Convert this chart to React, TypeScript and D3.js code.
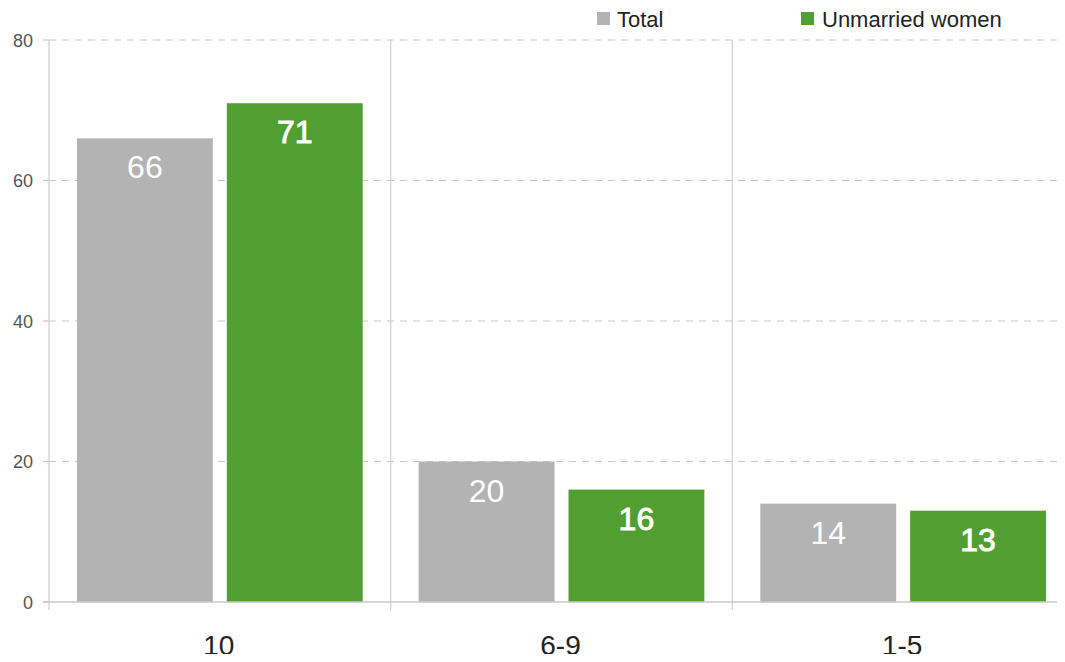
import React from "react";
import * as d3 from "d3";

const categories = ["10", "6-9", "1-5"];
const seriesNames = ["Total", "Unmarried women"];
const totalValues = [66, 20, 14];
const unmarriedValues = [71, 16, 13];
const yTicks = [0, 20, 40, 60, 80];
const seriesColors = ["#b3b3b3", "#519f30"];

const W = 1065;
const H = 662;
const FONT = "'Liberation Sans', Arial, Helvetica, sans-serif";

export default function App() {
  const left = 49;
  const top = 40;
  const bottom = 602;
  const right = 1074;

  const y = d3.scaleLinear().domain([0, 80]).range([bottom, top]);
  const x0 = d3.scaleBand<string>().domain(categories).range([left, right]).paddingInner(0).paddingOuter(0);
  const x1 = d3
    .scaleBand<string>()
    .domain(seriesNames)
    .range([0, x0.bandwidth()])
    .paddingInner(0.0933)
    .paddingOuter(0.1867);

  const data = categories.map((c, i) => ({
    cat: c,
    values: [totalValues[i], unmarriedValues[i]],
  }));

  const separators = [left, ...categories.slice(1).map((c) => x0(c) as number)];

  return (
    <div style={{ margin: -8 }}>
      <svg width={W} height={H} style={{ display: "block", background: "#fff" }} fontFamily={FONT}>
        {yTicks.map((t) => (
          <g key={"g" + t}>
            {t > 0 && (
              <line
                x1={left}
                x2={W}
                y1={y(t)}
                y2={y(t)}
                stroke="#c8c8c8"
                strokeWidth={1.2}
                strokeDasharray="7,6"
              />
            )}
            <line x1={43} x2={left} y1={y(t)} y2={y(t)} stroke="#c8c8c8" strokeWidth={1.2} />
            <text x={33} y={y(t) + 6.5} textAnchor="end" fontSize={18} fill="#555">
              {t}
            </text>
          </g>
        ))}
        {separators.map((sx, i) => (
          <line key={"s" + i} x1={sx} x2={sx} y1={top} y2={610} stroke="#cfcfcf" strokeWidth={1.2} />
        ))}
        {data.map((d) => (
          <g key={d.cat} transform={`translate(${x0(d.cat)},0)`}>
            {d.values.map((v, j) => {
              const bx = x1(seriesNames[j]) as number;
              const bw = x1.bandwidth();
              return (
                <g key={j}>
                  <rect x={bx} y={y(v)} width={bw} height={bottom - y(v)} fill={seriesColors[j]} />
                  <text
                    x={bx + bw / 2}
                    y={y(v) + 40}
                    textAnchor="middle"
                    fontSize={32}
                    fill="#fff"
                    stroke={j === 1 ? "#fff" : "none"}
                    strokeWidth={j === 1 ? 0.9 : 0}
                  >
                    {v}
                  </text>
                </g>
              );
            })}
            <text
              x={x0.bandwidth() / 2 - 1}
              y={655}
              textAnchor="middle"
              fontSize={28}
              fill="#222"
            >
              {d.cat}
            </text>
          </g>
        ))}
        <line x1={43} x2={W} y1={bottom} y2={bottom} stroke="#c8c8c8" strokeWidth={1.5} />
        <rect x={597} y={12} width={13} height={13} fill={seriesColors[0]} />
        <text x={617} y={26.5} fontSize={22} fill="#222">
          {seriesNames[0]}
        </text>
        <rect x={801} y={12} width={13} height={13} fill={seriesColors[1]} />
        <text x={822} y={26.5} fontSize={22} fill="#222">
          {seriesNames[1]}
        </text>
      </svg>
    </div>
  );
}
